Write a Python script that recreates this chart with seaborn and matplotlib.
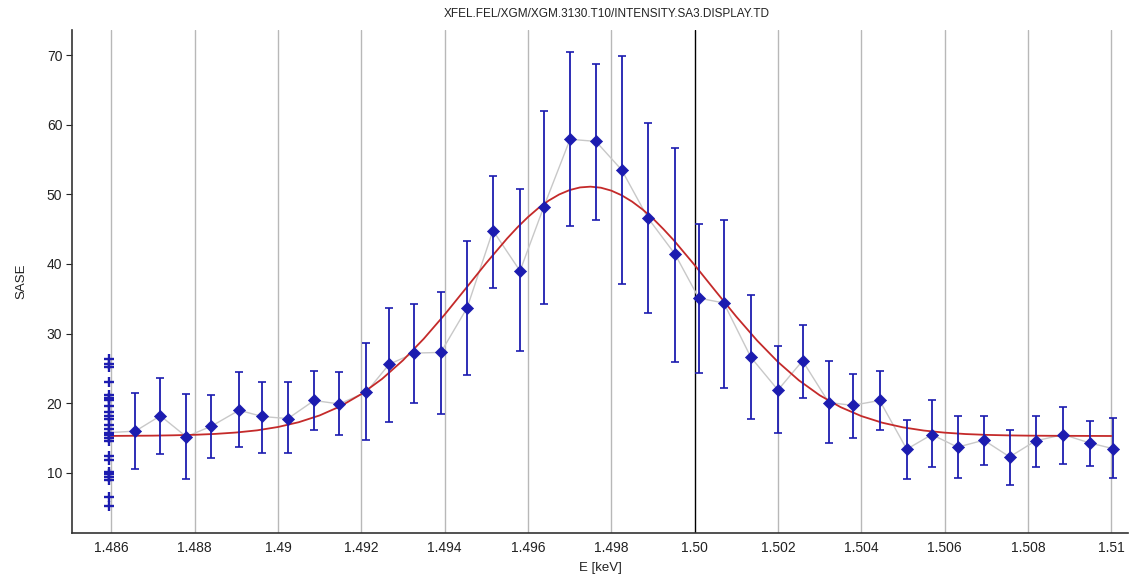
#!/usr/bin/env python3
"""
Energy scan of the SA3 XGM intensity with a Gaussian fit overlay.
"""

import matplotlib

matplotlib.use("Agg")
import matplotlib.pyplot as plt
import seaborn as sns

sns.set_theme(style="white")
plt.rcParams["font.family"] = ["Liberation Sans", "DejaVu Sans"]

title = "XFEL.FEL/XGM/XGM.3130.T10/INTENSITY.SA3.DISPLAY.TD"

# binned scan points: mean SASE with lower / upper error bar ends
energy = [
    1.48658, 1.48718, 1.48780, 1.48840, 1.48907, 1.48962, 1.49024, 1.49087,
    1.49147, 1.49212, 1.49267, 1.49327, 1.49391, 1.49454, 1.49516, 1.49581,
    1.49638, 1.49701, 1.49763, 1.49825, 1.49888, 1.49953, 1.50010, 1.50070,
    1.50135, 1.50200, 1.50259, 1.50322, 1.50379, 1.50444, 1.50509, 1.50569,
    1.50631, 1.50694, 1.50756, 1.50818, 1.50885, 1.50948, 1.51003,
]
sase = [
    16.0, 18.2, 15.2, 16.7, 19.0, 18.1, 17.8, 20.4,
    19.9, 21.6, 25.6, 27.2, 27.3, 33.7, 44.8, 39.0,
    48.2, 57.9, 57.6, 53.5, 46.6, 41.4, 35.1, 34.4,
    26.6, 21.9, 26.1, 20.1, 19.7, 20.4, 13.4, 15.5,
    13.7, 14.7, 12.3, 14.6, 15.5, 14.3, 13.5,
]
sase_low = [
    10.6, 12.7, 9.1, 12.1, 13.7, 12.9, 12.8, 16.1,
    15.4, 14.7, 17.3, 20.1, 18.4, 24.1, 36.6, 27.5,
    34.3, 45.5, 46.3, 37.1, 33.0, 25.9, 24.4, 22.2,
    17.7, 15.8, 20.7, 14.3, 15.0, 16.1, 9.1, 10.8,
    9.2, 11.2, 8.3, 10.9, 11.3, 11.0, 9.2,
]
sase_high = [
    21.5, 23.6, 21.3, 21.2, 24.5, 23.0, 23.0, 24.7,
    24.5, 28.7, 33.7, 34.3, 36.0, 43.3, 52.7, 50.8,
    62.0, 70.4, 68.7, 69.8, 60.2, 56.6, 45.8, 46.3,
    35.5, 28.2, 31.2, 26.0, 24.2, 24.7, 17.6, 20.4,
    18.1, 18.2, 16.2, 18.2, 19.5, 17.5, 17.9,
]

# start value of the connecting trace at the first energy setting
start_energy = 1.486
start_sase = 15.8

# single shots recorded at the start energy
shot_energy = 1.48594
shot_sase = [
    26.3, 25.6, 25.2, 23.0, 21.2, 20.8, 20.5, 19.6, 18.8, 18.1, 17.7, 16.9,
    16.3, 15.8, 15.4, 15.0, 14.6, 12.4, 11.9, 10.2, 9.8, 9.4, 9.0, 6.6, 5.2,
]

# fitted curve
fit_energy = [
    1.4860, 1.4865, 1.4870, 1.4875, 1.4880, 1.4885, 1.4890, 1.4895, 1.4900,
    1.4905, 1.4910, 1.4915, 1.4920, 1.4925, 1.4930, 1.4935, 1.4940, 1.4945,
    1.4950, 1.4955, 1.49575, 1.4960, 1.49625, 1.4965, 1.49675, 1.4970,
    1.49725, 1.4975, 1.49775, 1.4980, 1.49825, 1.4985, 1.49875, 1.4990,
    1.49925, 1.4995, 1.5000, 1.5005, 1.5010, 1.5015, 1.5020, 1.5025, 1.5030,
    1.5035, 1.5040, 1.5045, 1.5050, 1.5055, 1.5060, 1.5065, 1.5070, 1.5075,
    1.5080, 1.5085, 1.5090, 1.5095, 1.5100,
]
fit_sase = [
    15.31, 15.33, 15.35, 15.40, 15.47, 15.60, 15.80, 16.11, 16.59,
    17.28, 18.25, 19.57, 21.31, 23.50, 26.16, 29.26, 32.72, 36.42,
    40.14, 43.66, 45.27, 46.73, 48.02, 49.11, 49.98, 50.61,
    50.99, 51.10, 50.95, 50.53, 49.86, 48.95, 47.83, 46.52,
    45.01, 43.40, 39.84, 36.12, 32.44, 29.00, 25.93, 23.30, 21.15,
    19.45, 18.16, 17.21, 16.54, 16.08, 15.78, 15.58, 15.46, 15.39,
    15.35, 15.33, 15.32, 15.31, 15.30,
]

x_ticks = [1.486, 1.488, 1.490, 1.492, 1.494, 1.496, 1.498,
           1.500, 1.502, 1.504, 1.506, 1.508, 1.510]
x_tick_labels = ["1.486", "1.488", "1.49", "1.492", "1.494", "1.496", "1.498",
                 "1.50", "1.502", "1.504", "1.506", "1.508", "1.51"]
y_ticks = [10, 20, 30, 40, 50, 60, 70]
marker_energy = 1.500

blue = "#1c1cb0"

fig = plt.figure(figsize=(11.33, 5.76), dpi=100)
ax = fig.add_axes([0.0636, 0.075, 0.9320, 0.873])

for xt in x_ticks:
    color = "black" if abs(xt - marker_energy) < 1e-9 else "#b8b8b8"
    ax.axvline(xt, color=color, linewidth=1.0, zorder=0)

trace_x = [start_energy] + energy
trace_y = [start_sase] + sase
sns.lineplot(x=trace_x, y=trace_y, sort=False, estimator=None,
             color="#c8c8c8", linewidth=1.0, ax=ax, zorder=2)

sns.lineplot(x=fit_energy, y=fit_sase, sort=False, estimator=None,
             color="#c42a2a", linewidth=1.3, ax=ax, zorder=3)

err_low = [s - lo for s, lo in zip(sase, sase_low)]
err_high = [hi - s for s, hi in zip(sase, sase_high)]
ax.errorbar(energy, sase, yerr=[err_low, err_high], fmt="none",
            ecolor=blue, elinewidth=1.3, capsize=2.8, capthick=1.2, zorder=4)

sns.scatterplot(x=energy, y=sase, marker="D", s=38, color=blue,
                edgecolor=blue, linewidth=0.5, ax=ax, zorder=5)

sns.scatterplot(x=[shot_energy] * len(shot_sase), y=shot_sase, marker="+",
                s=55, color=blue, linewidth=1.7, ax=ax, zorder=5)

ax.set_xlim(1.48506, 1.51040)
ax.set_ylim(1.4, 73.6)
ax.set_xticks(x_ticks)
ax.set_xticklabels(x_tick_labels)
ax.set_yticks(y_ticks)
ax.tick_params(axis="x", length=0, pad=6, labelsize=10, colors="#222222")
ax.tick_params(axis="y", length=4, width=0.8, direction="out", pad=3,
               labelsize=10, colors="#222222", left=True)

for side in ["top", "right"]:
    ax.spines[side].set_visible(False)
for side in ["left", "bottom"]:
    ax.spines[side].set_color("#333333")
    ax.spines[side].set_linewidth(1.2)

ax.set_xlabel("E [keV]", fontsize=9.5, labelpad=5, color="#222222")
ax.set_ylabel("SASE", fontsize=9.5, labelpad=14, color="#222222")
ax.set_title(title, fontsize=8.5, pad=9, color="#222222", x=0.506)

fig.savefig("out.png", dpi=100)
